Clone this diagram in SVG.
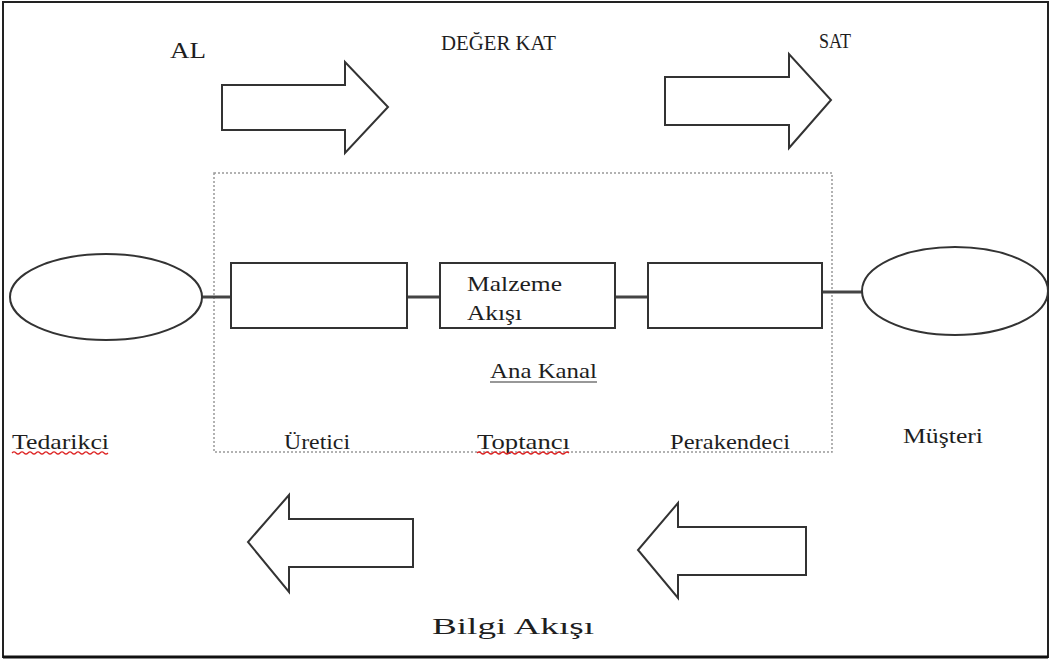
<svg xmlns="http://www.w3.org/2000/svg" width="1050" height="663" viewBox="0 0 1050 663">
<style>
.t{font-family:"Liberation Serif","Times New Roman",serif;fill:#1e1e1e}
.arr{fill:#fff;stroke:#333;stroke-width:2;stroke-linejoin:miter}
.box{fill:#fff;stroke:#333;stroke-width:2}
.ell{fill:#fff;stroke:#333;stroke-width:2}
.con{stroke:#444;stroke-width:3;fill:none}
.sq{fill:none;stroke:#d22;stroke-width:1.2}
</style>
<rect x="0" y="0" width="1050" height="663" fill="#fff"/>
<rect x="3" y="2" width="1045" height="655" fill="none" stroke="#222" stroke-width="2"/>
<line x1="3" y1="657" x2="1048" y2="657" stroke="#111" stroke-width="3"/>

<g id="top-labels">
<text class="t" x="170" y="58" font-size="23" textLength="36" lengthAdjust="spacingAndGlyphs">AL</text>
<text class="t" x="441" y="50" font-size="22" textLength="115" lengthAdjust="spacingAndGlyphs">DEĞER KAT</text>
<text class="t" x="819" y="48" font-size="22" textLength="32" lengthAdjust="spacingAndGlyphs">SAT</text>
</g>

<g id="arrow-al"><polygon class="arr" points="222,85 345,85 345,62 388,107 345,153 345,130 222,130"/></g>
<g id="arrow-sat"><polygon class="arr" points="665,77 789,77 789,54 831,100 789,148 789,125 665,125"/></g>

<g id="ana-kanal-frame">
<rect x="214" y="173" width="618" height="279" fill="none" stroke="#999" stroke-width="1.5" stroke-dasharray="2,2"/>
<text class="t" x="490" y="378" font-size="21" textLength="107" lengthAdjust="spacingAndGlyphs">Ana Kanal</text>
<line x1="490" y1="382" x2="597" y2="382" stroke="#333" stroke-width="1.2"/>
</g>

<g id="connectors">
<line class="con" x1="202" y1="297" x2="231" y2="297"/>
<line class="con" x1="407" y1="297" x2="440" y2="297"/>
<line class="con" x1="615" y1="297" x2="648" y2="297"/>
<line class="con" x1="822" y1="292" x2="862" y2="292" stroke-width="2"/>
</g>

<g id="tedarikci">
<ellipse class="ell" cx="106" cy="297" rx="96" ry="43"/>
<text class="t" x="12" y="449" font-size="22" textLength="97" lengthAdjust="spacingAndGlyphs">Tedarikci</text>
<path class="sq" d="M12,453 q2,-2 4,0 t4,0 t4,0 t4,0 t4,0 t4,0 t4,0 t4,0 t4,0 t4,0 t4,0 t4,0 t4,0 t4,0 t4,0 t4,0 t4,0 t4,0 t4,0 t4,0 t4,0 t4,0 t4,0 t4,0"/>
</g>

<g id="uretici">
<rect class="box" x="231" y="263" width="176" height="65"/>
<text class="t" x="284" y="449" font-size="22" textLength="66" lengthAdjust="spacingAndGlyphs">Üretici</text>
</g>

<g id="toptanci">
<rect class="box" x="440" y="263" width="175" height="65"/>
<text class="t" x="467" y="291" font-size="21" textLength="95" lengthAdjust="spacingAndGlyphs">Malzeme</text>
<text class="t" x="467" y="320" font-size="21" textLength="55" lengthAdjust="spacingAndGlyphs">Akışı</text>
<text class="t" x="477" y="449" font-size="22" textLength="93" lengthAdjust="spacingAndGlyphs">Toptancı</text>
<path class="sq" d="M477,453 q2,-2 4,0 t4,0 t4,0 t4,0 t4,0 t4,0 t4,0 t4,0 t4,0 t4,0 t4,0 t4,0 t4,0 t4,0 t4,0 t4,0 t4,0 t4,0 t4,0 t4,0 t4,0 t4,0 t4,0"/>
</g>

<g id="perakendeci">
<rect class="box" x="648" y="263" width="174" height="65"/>
<text class="t" x="670" y="449" font-size="22" textLength="120" lengthAdjust="spacingAndGlyphs">Perakendeci</text>
</g>

<g id="musteri">
<ellipse class="ell" cx="955" cy="291" rx="93" ry="44"/>
<text class="t" x="903" y="443" font-size="21" textLength="80" lengthAdjust="spacingAndGlyphs">Müşteri</text>
</g>

<g id="arrow-bilgi-1"><polygon class="arr" points="413,519 289,519 289,495 248,542 289,592 289,567 413,567"/></g>
<g id="arrow-bilgi-2"><polygon class="arr" points="806,527 678,527 678,503 638,550 678,598 678,575 806,575"/></g>

<g id="bilgi-akisi">
<text class="t" x="432" y="634" font-size="24" textLength="162" lengthAdjust="spacingAndGlyphs">Bilgi Akışı</text>
</g>
</svg>
